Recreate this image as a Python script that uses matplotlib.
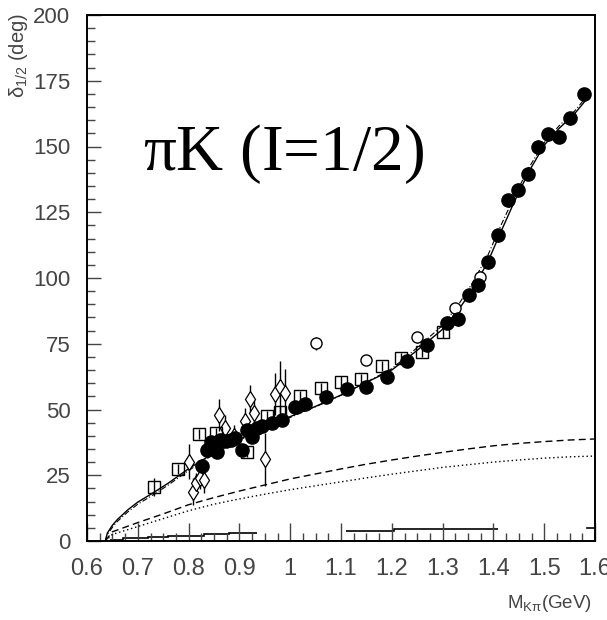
import matplotlib
matplotlib.use("Agg")
import matplotlib.pyplot as plt
from matplotlib.ticker import MultipleLocator

plt.rcParams['font.family'] = ['Liberation Sans Narrow', 'Liberation Sans', 'DejaVu Sans']

# filled circles
fc_x = [0.826, 0.836, 0.845, 0.855, 0.862, 0.873, 0.883, 0.892, 0.905, 0.914, 0.924,
        0.934, 0.944, 0.964, 0.984, 1.009, 1.029, 1.070, 1.111, 1.150, 1.190, 1.229,
        1.269, 1.309, 1.330, 1.351, 1.370, 1.390, 1.410, 1.429, 1.449, 1.469, 1.488,
        1.508, 1.530, 1.551, 1.578]
fc_y = [28.5, 34.6, 37.8, 34.0, 38.4, 38.0, 38.4, 39.0, 34.6, 42.2, 39.6,
        43.0, 43.6, 44.7, 46.0, 50.8, 52.0, 54.6, 57.7, 58.4, 62.5, 68.6,
        74.5, 83.0, 84.3, 93.5, 97.3, 106.0, 116.2, 129.5, 133.5, 139.7, 150.0,
        154.7, 153.7, 160.7, 169.8]
fc_err = [2.5, 2, 2, 2, 2, 2, 2, 2, 2, 2, 2,
          2, 2, 2, 2, 2, 2, 2, 2, 2, 2, 2,
          2, 2.5, 2.5, 2.5, 2.5, 2.5, 2.5, 2.5, 2.5, 2.5, 2.5,
          2.5, 2.5, 2.5, 2.5]

# open squares
sq_x = [0.731, 0.780, 0.820, 0.854, 0.914, 0.955, 0.980, 1.020, 1.060, 1.100,
        1.139, 1.180, 1.219, 1.259, 1.301]
sq_y = [20.6, 27.3, 40.6, 41.0, 34.0, 47.4, 49.2, 55.0, 58.0, 60.6,
        61.6, 66.5, 69.5, 72.0, 79.3]
sq_err = [3.5, 2, 2, 2, 2, 2, 2, 2, 2, 2, 2, 2, 2, 2, 2]

# open circles
oc_x = [1.051, 1.150, 1.249, 1.324, 1.374]
oc_y = [75.2, 68.8, 77.4, 88.5, 100.5]
oc_err = [2.5, 1.5, 2.0, 2.0, 2.0]

# open diamonds
dm_x = [0.801, 0.809, 0.815, 0.822, 0.831, 0.860, 0.872, 0.890, 0.911, 0.921,
        0.929, 0.950, 0.970, 0.980, 0.990]
dm_y = [30.2, 18.8, 22.0, 23.8, 23.2, 48.0, 43.0, 40.0, 45.5, 54.0,
        48.6, 31.0, 56.0, 58.5, 56.4]
dm_err = [6.5, 5.0, 4.0, 4.0, 5.0, 6.0, 5.0, 4.0, 5.0, 5.5,
          5.0, 10.0, 8.0, 10.0, 9.0]

# fit curves
fit_x = [0.636, 0.640, 0.650, 0.660, 0.680, 0.700, 0.730, 0.760, 0.800, 0.850,
         0.900, 0.950, 1.000, 1.050, 1.100, 1.150, 1.200, 1.250, 1.300, 1.330,
         1.360, 1.390, 1.410, 1.440, 1.470, 1.500, 1.530, 1.560, 1.590]
fit_y = [0.0, 3.0, 6.0, 8.2, 11.8, 14.8, 18.3, 22.0, 27.5, 33.5,
         38.7, 43.0, 47.3, 51.2, 55.5, 60.3, 65.0, 72.5, 80.5, 87.5,
         96.0, 106.5, 115.5, 128.5, 140.5, 150.5, 157.0, 162.5, 169.5]
alt_y = [0.0, 2.5, 5.2, 7.5, 11.0, 14.0, 17.5, 21.3, 26.8, 33.0,
         38.3, 42.7, 47.0, 51.0, 55.4, 60.4, 65.5, 73.5, 82.0, 89.5,
         98.5, 109.0, 118.0, 130.5, 142.0, 151.5, 158.0, 163.5, 170.5]

comp_x = [0.636, 0.650, 0.700, 0.750, 0.800, 0.850, 0.900, 0.950, 1.000, 1.050,
          1.100, 1.150, 1.200, 1.250, 1.300, 1.350, 1.400, 1.450, 1.500, 1.550, 1.600]
dash_y = [0.0, 3.5, 7.0, 10.3, 13.8, 16.5, 19.0, 21.3, 23.6, 25.5,
          27.4, 29.2, 30.8, 32.3, 33.7, 35.0, 36.2, 37.1, 37.8, 38.4, 38.8]
dot_y = [0.0, 2.5, 5.5, 8.5, 11.5, 14.0, 16.0, 17.8, 19.5, 21.0,
         22.5, 24.0, 25.4, 26.7, 28.0, 29.0, 30.0, 30.8, 31.5, 32.0, 32.3]

# systematic bands at the bottom
band1_edges = [0.645, 0.670, 0.720, 0.760, 0.830, 0.880, 0.934]
band1_vals = [0.5, 1.0, 1.5, 2.0, 2.6, 3.1]
band2_edges = [1.110, 1.205, 1.410]
band2_vals = [3.9, 4.5]

xticks = [0.6, 0.7, 0.8, 0.9, 1.0, 1.1, 1.2, 1.3, 1.4, 1.5, 1.6]
xtick_labels = ['0.6', '0.7', '0.8', '0.9', '1', '1.1', '1.2', '1.3', '1.4', '1.5', '1.6']

fig = plt.figure(figsize=(6.07, 6.2), dpi=100)
ax = fig.add_axes([87 / 607, 79 / 620, 508 / 607, 526 / 620])

ax.plot(fit_x, fit_y, color='black', lw=1.0, zorder=2)
ax.plot(fit_x, alt_y, color='black', lw=0.8, ls=(0, (5, 2, 1, 2)), zorder=2)
ax.plot(comp_x, dash_y, color='black', lw=1.0, ls=(0, (5, 3)), zorder=2)
ax.plot(comp_x, dot_y, color='black', lw=1.0, ls=(0, (1, 2)), zorder=2)

ax.stairs(band1_vals, band1_edges, baseline=None, color='black', lw=1.2)
ax.stairs(band2_vals, band2_edges, baseline=None, color='black', lw=1.2)
ax.plot([1.585, 1.600], [4.8, 4.8], color='black', lw=1.2)

ax.errorbar(dm_x, dm_y, yerr=dm_err, fmt='d', ms=8, mfc='white', mec='black',
            mew=0.9, ecolor='black', elinewidth=1, capsize=0, zorder=3)
ax.errorbar(sq_x, sq_y, yerr=sq_err, fmt='s', ms=8, mfc='none', mec='black',
            mew=1, ecolor='black', elinewidth=1, capsize=0, zorder=4)
ax.errorbar(oc_x, oc_y, yerr=oc_err, fmt='o', ms=8, mfc='white', mec='black',
            mew=1, ecolor='black', elinewidth=1, capsize=0, zorder=4)
ax.errorbar(fc_x, fc_y, yerr=fc_err, fmt='o', ms=9.5, mfc='black', mec='black',
            ecolor='black', elinewidth=1, capsize=0, zorder=5)

ax.set_xlim(0.6, 1.6)
ax.set_ylim(0, 200)
ax.set_xticks(xticks)
ax.set_xticklabels(xtick_labels)
ax.xaxis.set_minor_locator(MultipleLocator(0.025))
ax.yaxis.set_major_locator(MultipleLocator(25))
ax.yaxis.set_minor_locator(MultipleLocator(5))

ax.tick_params(axis='x', which='major', direction='in', length=13, width=1,
               labelsize=17, pad=12, colors='#444444')
ax.tick_params(axis='x', which='minor', direction='in', length=6, width=1, colors='#444444')
ax.tick_params(axis='y', which='major', direction='in', length=10, width=1,
               labelsize=16, pad=12, colors='#444444')
ax.tick_params(axis='y', which='minor', direction='in', length=6, width=1, colors='#444444')
for s in ax.spines.values():
    s.set_linewidth(1.4)

ax.text(0.110, 0.705, r'$\mathregular{\pi}$K (I=1/2)', transform=ax.transAxes,
        fontsize=47, family=['Liberation Serif', 'DejaVu Serif'], va='baseline', ha='left')

fig.text(19 / 607, 1 - 13 / 620, r'$\mathregular{\delta_{1/2}}$ (deg)', rotation=90,
         ha='center', va='top', fontsize=14.5, color='#444444')
fig.text(592 / 607, 1 - 603 / 620, r'M$_{\mathregular{K\pi}}$(GeV)', ha='right',
         va='center', fontsize=13.5, color='#444444')

fig.savefig('out.png', dpi=100)
